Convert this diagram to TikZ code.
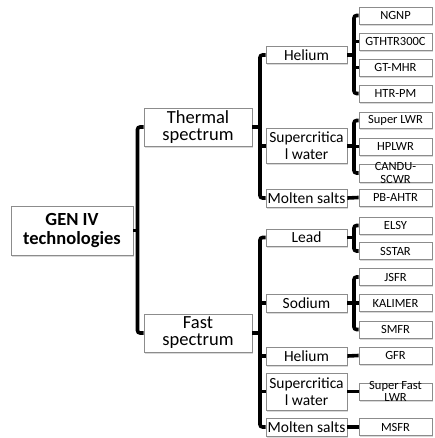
\documentclass[tikz,border=0pt]{standalone}
\usepackage{fontspec}
\setmainfont{Carlito}
\usetikzlibrary{shadows}
\begin{document}
\begin{tikzpicture}[x=1pt,y=-1pt,
  box/.style={draw=black!45, line width=0.8pt, fill=white, inner sep=0pt, align=center,
    drop shadow={shadow xshift=1.3pt, shadow yshift=-1.6pt, opacity=0.3}},
  rootbox/.style={box, minimum width=122pt, minimum height=49pt, font=\fontsize{18.5}{19}\selectfont\bfseries},
  specbox/.style={box, minimum width=108pt, minimum height=38pt, font=\fontsize{18.5}{17}\selectfont},
  midbox/.style={box, minimum width=81pt, font=\fontsize{15.5}{17}\selectfont},
  leafbox/.style={box, minimum width=73pt, minimum height=17pt, font=\fontsize{12.5}{12.5}\selectfont},
  leaftext/.style={inner sep=0pt, align=center, font=\fontsize{12.5}{12.5}\selectfont},
  conn/.style={line width=3.6pt, rounded corners=2.5pt}]
\useasboundingbox (0,0) rectangle (434,438);
% root and spectra
\node[rootbox] (root) at (72,230.5) {GEN IV\\technologies};
\node[specbox] (thermal) at (198,127) {Thermal\\spectrum};
\node[specbox] (fast) at (198,333) {Fast\\spectrum};
% middle level
\node[midbox, minimum height=17pt] (heT) at (306.5,55) {Helium};
\node[midbox, minimum height=35pt] (scT) at (306.5,146) {Supercritica\\l water};
\node[midbox, minimum height=18pt] (moT) at (306.5,198) {Molten salts};
\node[midbox, minimum height=17pt] (lead) at (306.5,237.5) {Lead};
\node[midbox, minimum height=18pt] (sodium) at (306.5,303) {Sodium};
\node[midbox, minimum height=18pt] (heF) at (306.5,356) {Helium};
\node[midbox, minimum height=37pt] (scF) at (306.5,391.5) {Supercritica\\l water};
\node[midbox, minimum height=18pt] (moF) at (306.5,427) {Molten salts};
% leaves
\node[leafbox] (ngnp) at (395.5,15.5) {NGNP};
\node[leafbox] (gthtr) at (395.5,41.5) {GTHTR300C};
\node[leafbox] (gtmhr) at (395.5,67.5) {GT-MHR};
\node[leafbox] (htrpm) at (395.5,93.5) {HTR-PM};
\node[leafbox, minimum height=16pt] (superlwr) at (395.5,120.5) {Super LWR};
\node[leafbox] (hplwr) at (395.5,146.5) {HPLWR};
\node[leafbox, minimum height=18pt] (candu) at (395.5,173) {};
\node[leaftext] (canduT) at (candu) {CANDU-\\SCWR};
\node[leafbox] (pbahtr) at (395.5,197.5) {PB-AHTR};
\node[leafbox] (elsy) at (395.5,225.5) {ELSY};
\node[leafbox] (sstar) at (395.5,251) {SSTAR};
\node[leafbox] (jsfr) at (395.5,277) {JSFR};
\node[leafbox] (kalimer) at (395.5,303) {KALIMER};
\node[leafbox] (smfr) at (395.5,329.5) {SMFR};
\node[leafbox] (gfr) at (395.5,355.5) {GFR};
\node[leafbox] (sfl) at (395.5,391.5) {};
\node[leaftext] (sflT) at (sfl) {Super Fast\\LWR};
\node[leafbox] (msfr) at (395.5,427) {MSFR};
% junction coordinates
\coordinate (j0) at (137.5,230.5);
\coordinate (j1) at (260,127);
\coordinate (j2) at (354,55);
\coordinate (j3) at (354,146);
\coordinate (j4) at (260,333);
\coordinate (j5) at (354,237.5);
\coordinate (j6) at (354,303);
% connectors
\draw[conn] (thermal.west) -| (j0) |- (fast.west);
\draw[conn] (root.east) -- (j0);
\draw[conn] (heT.west) -| (j1) |- (moT.west);
\draw[conn] (thermal.east) -- (j1);
\draw[conn] (scT.west) -- (scT.west -| j1);
\draw[conn] (ngnp.west) -| (j2) |- (htrpm.west);
\draw[conn] (heT.east) -- (j2);
\draw[conn] (gthtr.west) -- (gthtr.west -| j2);
\draw[conn] (gtmhr.west) -- (gtmhr.west -| j2);
\draw[conn] (superlwr.west) -| (j3) |- (candu.west);
\draw[conn] (scT.east) -- (j3);
\draw[conn] (hplwr.west) -- (hplwr.west -| j3);
\draw[conn] (moT.east) -- (pbahtr.west);
\draw[conn] (lead.west) -| (j4) |- (moF.west);
\draw[conn] (fast.east) -- (j4);
\draw[conn] (sodium.west) -- (sodium.west -| j4);
\draw[conn] (heF.west) -- (heF.west -| j4);
\draw[conn] (scF.west) -- (scF.west -| j4);
\draw[conn] (elsy.west) -| (j5) |- (sstar.west);
\draw[conn] (lead.east) -- (j5);
\draw[conn] (jsfr.west) -| (j6) |- (smfr.west);
\draw[conn] (sodium.east) -- (kalimer.west);
\draw[conn] (heF.east) -- (gfr.west);
\draw[conn] (scF.east) -- (sfl.west);
\draw[conn] (moF.east) -- (msfr.west);
\end{tikzpicture}
\end{document}
